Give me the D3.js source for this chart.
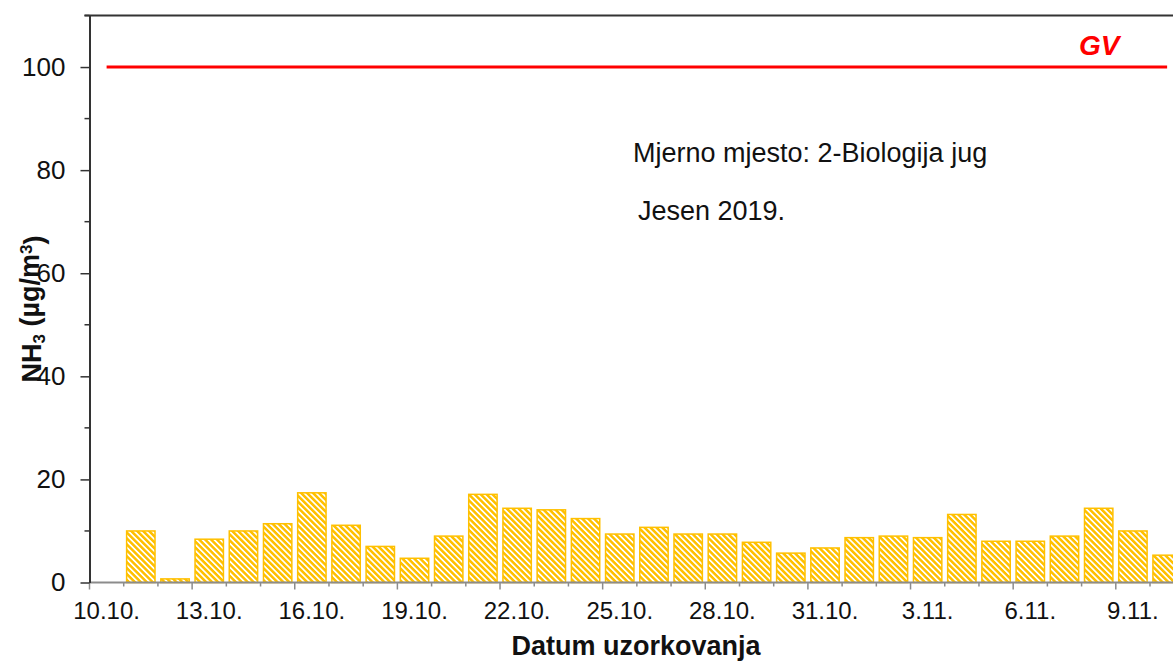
<!DOCTYPE html>
<html>
<head>
<meta charset="utf-8">
<script src="https://cdn.jsdelivr.net/npm/d3@7"></script>
<style>
body { margin: 0; background: #fff; }
text { font-family: "Liberation Sans", Arial, sans-serif; }
</style>
</head>
<body>
<script>
const days = ["10.10.", "11.10.", "12.10.", "13.10.", "14.10.", "15.10.", "16.10.", "17.10.",
  "18.10.", "19.10.", "20.10.", "21.10.", "22.10.", "23.10.", "24.10.", "25.10.", "26.10.",
  "27.10.", "28.10.", "29.10.", "30.10.", "31.10.", "1.11.", "2.11.", "3.11.", "4.11.",
  "5.11.", "6.11.", "7.11.", "8.11.", "9.11.", "10.11."];
const nh3 = [null, 10.0, 0.7, 8.4, 10.0, 11.4, 17.4, 11.1, 7.0, 4.7, 9.0, 17.1, 14.4, 14.1,
  12.4, 9.4, 10.7, 9.4, 9.4, 7.8, 5.7, 6.7, 8.7, 9.0, 8.7, 13.2, 8.0, 8.0, 9.0, 14.4, 10.0, 5.3];
const gv = 100;
const yTicks = [0, 20, 40, 60, 80, 100];
const yMinor = [10, 30, 50, 70, 90, 110];
const xTickLabels = ["10.10.", "13.10.", "16.10.", "19.10.", "22.10.", "25.10.", "28.10.",
  "31.10.", "3.11.", "6.11.", "9.11."];

const W = 1173, H = 662;
const plotLeft = 89.5, plotTop = 15.5, base = 582.5;
const step = 34.21;

const svg = d3.select("body").append("svg")
  .attr("width", W)
  .attr("height", H);

const x = d3.scaleBand()
  .domain(days)
  .range([plotLeft, plotLeft + step * days.length])
  .paddingInner(0.17)
  .paddingOuter(0.085);

const y = d3.scaleLinear()
  .domain([0, 110])
  .range([base, plotTop]);

// hatch fill
const pat = svg.append("defs").append("pattern")
  .attr("id", "hatch")
  .attr("patternUnits", "userSpaceOnUse")
  .attr("width", 4.2)
  .attr("height", 4.2)
  .attr("patternTransform", "rotate(-45)");
pat.append("rect").attr("width", 4.2).attr("height", 4.2).attr("fill", "#FFC000");
pat.append("rect").attr("width", 1.7).attr("height", 4.2).attr("fill", "#fff");

const data = days.map((d, i) => ({day: d, v: nh3[i]})).filter(d => d.v != null);

svg.selectAll("rect.bar")
  .data(data)
  .enter()
  .append("rect")
  .attr("class", "bar")
  .attr("x", d => x(d.day))
  .attr("width", x.bandwidth())
  .attr("y", d => y(d.v))
  .attr("height", d => y(0) - y(d.v))
  .attr("fill", "url(#hatch)")
  .attr("stroke", "#FFC000")
  .attr("stroke-width", 1.5);

// limit value line
const half = x.step() / 2;
svg.append("line")
  .attr("x1", x(days[0]) - x.step() * 0.085 + half)
  .attr("x2", x(days[days.length - 1]) - x.step() * 0.085 + half)
  .attr("y1", y(gv))
  .attr("y2", y(gv))
  .attr("stroke", "#FF0000")
  .attr("stroke-width", 3);

svg.append("text")
  .attr("x", 1079)
  .attr("y", 55)
  .text("GV")
  .style("fill", "#FF0000")
  .style("font-size", "28px")
  .style("font-weight", "bold")
  .style("font-style", "italic");

// x axis
const boundary = d => x(d) - x.step() * 0.085;
svg.append("line")
  .attr("x1", plotLeft)
  .attr("x2", W)
  .attr("y1", base)
  .attr("y2", base)
  .attr("stroke", "#8c8c8c")
  .attr("stroke-width", 2);

svg.selectAll("line.xtick")
  .data(days)
  .enter()
  .append("line")
  .attr("class", "xtick")
  .attr("x1", d => boundary(d))
  .attr("x2", d => boundary(d))
  .attr("y1", base)
  .attr("y2", d => base + (xTickLabels.includes(d) ? 7 : 4))
  .attr("stroke", "#8c8c8c")
  .attr("stroke-width", 1.5);

svg.selectAll("text.xlab")
  .data(xTickLabels)
  .enter()
  .append("text")
  .attr("class", "xlab")
  .attr("x", d => x(d) + x.bandwidth() / 2)
  .attr("y", 619)
  .attr("text-anchor", "middle")
  .style("font-size", "24px")
  .style("fill", "#111")
  .text(d => d);

// y axis
const yAxis = svg.append("g")
  .attr("transform", "translate(" + plotLeft + ",0)")
  .call(d3.axisLeft(y).tickValues(yTicks).tickSize(9).tickSizeOuter(0).tickPadding(15));
yAxis.select(".domain").attr("stroke", "#333").attr("stroke-width", 2);
yAxis.selectAll(".tick line").attr("stroke", "#333").attr("stroke-width", 1.5);
yAxis.selectAll(".tick text")
  .style("font-size", "26px")
  .style("font-family", "'Liberation Sans', Arial, sans-serif")
  .style("fill", "#111");

svg.selectAll("line.yminor")
  .data(yMinor)
  .enter()
  .append("line")
  .attr("class", "yminor")
  .attr("x1", plotLeft - 5)
  .attr("x2", plotLeft)
  .attr("y1", d => y(d))
  .attr("y2", d => y(d))
  .attr("stroke", "#333")
  .attr("stroke-width", 1.5);

// top frame line
svg.append("line")
  .attr("x1", plotLeft - 5)
  .attr("x2", W)
  .attr("y1", y(110))
  .attr("y2", y(110))
  .attr("stroke", "#333")
  .attr("stroke-width", 2);

// annotations
svg.append("text")
  .attr("x", 633)
  .attr("y", 162)
  .text("Mjerno mjesto: 2-Biologija jug")
  .style("font-size", "27px")
  .style("fill", "#111");

svg.append("text")
  .attr("x", 638)
  .attr("y", 220)
  .text("Jesen 2019.")
  .style("font-size", "27px")
  .style("fill", "#111");

svg.append("text")
  .attr("x", 636)
  .attr("y", 655)
  .attr("text-anchor", "middle")
  .text("Datum uzorkovanja")
  .style("font-size", "27px")
  .style("font-weight", "bold")
  .style("fill", "#111");

const yTitle = svg.append("text")
  .attr("transform", "translate(41,309) rotate(-90)")
  .attr("text-anchor", "middle")
  .style("font-size", "27px")
  .style("font-weight", "bold")
  .style("fill", "#111");
yTitle.append("tspan").text("NH");
yTitle.append("tspan").attr("dy", "0.25em").style("font-size", "17px").text("3");
yTitle.append("tspan").attr("dy", "-0.25em").text(" (µg/m");
yTitle.append("tspan").attr("dy", "-0.4em").style("font-size", "17px").text("3");
yTitle.append("tspan").attr("dy", "0.4em").text(")");
</script>
</body>
</html>
